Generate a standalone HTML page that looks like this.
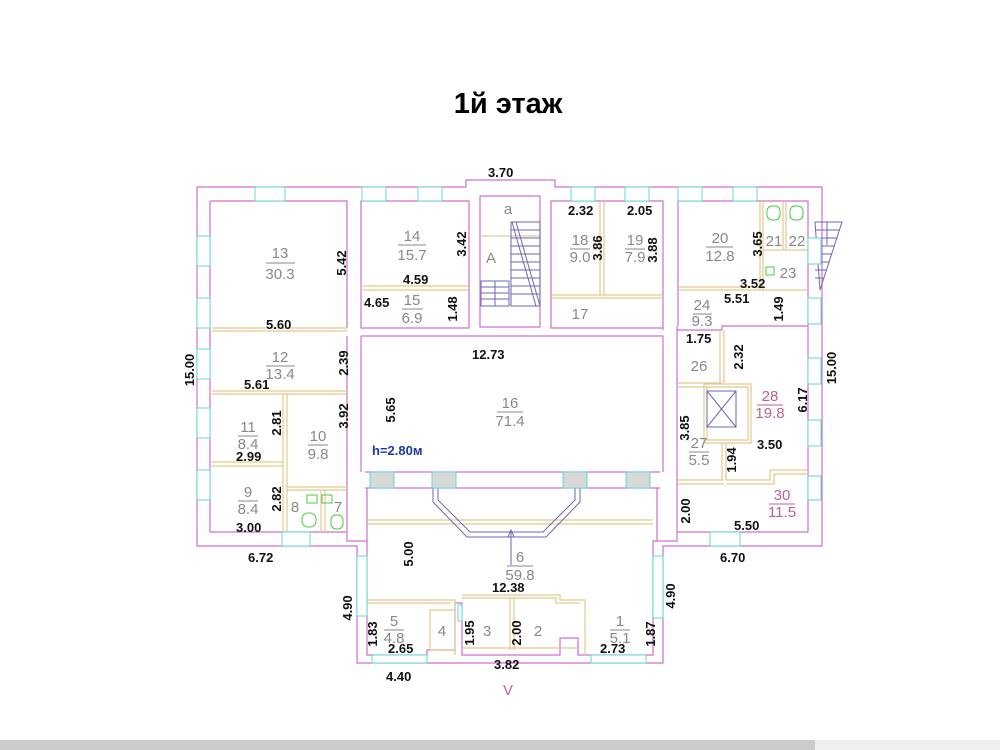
<!DOCTYPE html>
<html><head><meta charset="utf-8"><style>
html,body{margin:0;padding:0;background:#fff;width:1000px;height:750px;overflow:hidden}
svg{display:block}
.w{fill:none;stroke:#cf6fcf;stroke-width:1.2}
.t{fill:none;stroke:#e2c98e;stroke-width:1.2}
.win{fill:#fff;stroke:#5fd9d9;stroke-width:1}
.d{font-family:"Liberation Sans",sans-serif;font-weight:bold;font-size:13px;fill:#111}
.r{font-family:"Liberation Sans",sans-serif;font-size:15px;fill:#888;text-anchor:middle}
.s{fill:none;stroke:#6a6ab0;stroke-width:1}
</style></head><body>
<svg width="1000" height="750" viewBox="0 0 1000 750">
<text x="508" y="113" text-anchor="middle" font-family="Liberation Sans,sans-serif" font-weight="bold" font-size="29" fill="#000">1й этаж</text>
<path class="w" d="M197,187 H466 V180 H555 V187 H822 V546 H663 V663 H357 V546 H197 Z"/>
<path class="w" d="M210,201 H347 V328 M210,201 V532 H347 V541 H367 V655 H427 V650 H455 V603 H462 V655 H560 V638 H578 V655 H653 V541 H677 V532 H808 V201 H678 V326"/>
<path class="w" d="M361,201 H469 V328 H361 Z M480,196 H540 V327 H480 Z M551,201 H663 V328 H551 Z M361,336 H663 V472 M361,336 V472 M367,488 V541 M657,488 V541 M347,336 V532 M663,201 V330"/>
<path class="w" d="M365,472 H660 M365,488 H660 M677,330 H722 V326 H808 M677,326 V532"/>
<path class="t" d="M212,328 H347 M212,331 H347 M361,286 H469 M361,290 H469 M481,236 H540 M551,295 H663 M551,298 H663 M600,201 V295 M604,201 V295 M678,287 H760 M678,290 H808 M760,201 V290 M763,201 V290 M763,250 H808 M783,201 V250 M786,201 V250 M212,391 H347 M212,394 H347 M283,394 V532 M287,394 V532 M212,462 H283 M212,466 H283 M287,487 H347 M287,490 H347 M321,490 V532 M325,490 V532"/>
<path class="t" d="M720,330 V383 M724,330 V383 M678,383 H722 M678,387 H722 M707,387 H748 V440 H707 Z M704,384 H751 V443 H704 Z M722,443 V480 M726,443 V480 M678,480 H724 M678,484 H724 M726,480 H770 V470 H808 M726,484 H774 V474 H808"/>
<path class="t" d="M367,520 H653 M367,524 H653 M367,600 H455 V655 M367,603 H450 M462,595 H560 V600 H585 V655 M462,598 H556 V603 H580 M510,598 V650 M514,598 V650 M513,648 H580 M462,648 H560 M430,610 H455 V650 H430 Z"/>
<g class="s"><rect x="481" y="281" width="28" height="25"/><path d="M481,287H509M481,293H509M481,299H509M495,281V306"/>
<rect x="511" y="222" width="29" height="84"/><path d="M511,230H540M511,238H540M511,246H540M511,254H540M511,262H540M511,270H540M511,278H540M511,286H540M511,294H540M516,222L540,306M512,222L536,306"/>
<path d="M815,222 H842 L820,290 Z M815,230H839 M815,238H837 M815,246H834 M815,254H832 M815,262H829 M815,270H827 M815,278H824 M827,222V245"/>
<rect x="707" y="391" width="29" height="36" fill="#fff"/><path d="M707,391L736,427M736,391L707,427"/>
<path d="M433,488 V502 L467,537 H546 L580,502 V488 M438,488 V500 L470,532 H543 L575,500 V488"/>
<path d="M511,565 V530 M508,537 L511,530 L514,537"/></g>
<g class="win">
<rect x="255" y="187" width="30" height="14"/><rect x="362" y="187" width="24" height="14"/><rect x="418" y="187" width="24" height="14"/><rect x="571" y="187" width="24" height="14"/><rect x="625" y="187" width="24" height="14"/><rect x="678" y="187" width="24" height="14"/><rect x="733" y="187" width="24" height="14"/>
<rect x="197" y="236" width="13" height="30"/><rect x="197" y="298" width="13" height="30"/><rect x="197" y="349" width="13" height="30"/><rect x="197" y="408" width="13" height="30"/><rect x="197" y="470" width="13" height="30"/>
<rect x="808" y="238" width="13" height="26"/><rect x="808" y="298" width="13" height="26"/><rect x="808" y="358" width="13" height="26"/><rect x="808" y="420" width="13" height="26"/><rect x="808" y="476" width="13" height="24"/>
<rect x="282" y="532" width="28" height="14"/><rect x="710" y="532" width="30" height="14"/>
<rect x="357" y="556" width="10" height="60"/><rect x="653" y="556" width="10" height="62"/>
<rect x="372" y="655" width="55" height="8"/><rect x="591" y="655" width="55" height="8"/>
<rect x="458" y="605" width="4" height="16"/>
</g>
<g fill="#d8d8d8" stroke="#5fd9d9"><rect x="370" y="472" width="24" height="16"/><rect x="432" y="472" width="24" height="16"/><rect x="563" y="472" width="24" height="16"/><rect x="626" y="472" width="24" height="16"/></g>
<g fill="none" stroke="#4c4" stroke-width="1"><rect x="307" y="495" width="10" height="8"/><rect x="322" y="495" width="10" height="8"/><rect x="302" y="513" width="14" height="14" rx="6"/><rect x="331" y="515" width="12" height="14" rx="5"/><rect x="767" y="206" width="13" height="14" rx="5"/><rect x="790" y="206" width="13" height="14" rx="5"/><rect x="766" y="267" width="8" height="8"/></g>
<g class="r">
<text x="280" y="258">13</text><text x="280" y="279">30.3</text><path d="M266,263H295" stroke="#888"/>
<text x="412" y="241">14</text><text x="412" y="260">15.7</text><path d="M398,245H426" stroke="#888"/>
<text x="412" y="305">15</text><text x="412" y="323">6.9</text><path d="M402,309H423" stroke="#888"/>
<text x="580" y="245">18</text><text x="580" y="262">9.0</text><path d="M570,249H590" stroke="#888"/>
<text x="635" y="245">19</text><text x="635" y="262">7.9</text><path d="M625,249H645" stroke="#888"/>
<text x="720" y="243">20</text><text x="720" y="261">12.8</text><path d="M706,247H733" stroke="#888"/>
<text x="774" y="246">21</text><text x="797" y="246">22</text><text x="788" y="278">23</text>
<text x="702" y="310">24</text><text x="702" y="326">9.3</text><path d="M693,314H712" stroke="#888"/>
<text x="580" y="319">17</text><text x="491" y="263">A</text><text x="508" y="214">a</text>
<text x="280" y="362">12</text><text x="280" y="379">13.4</text><path d="M266,366H295" stroke="#888"/>
<text x="510" y="408">16</text><text x="510" y="426">71.4</text><path d="M497,412H523" stroke="#888"/>
<text x="248" y="432">11</text><text x="248" y="449">8.4</text><path d="M238,436H258" stroke="#888"/>
<text x="318" y="441">10</text><text x="318" y="459">9.8</text><path d="M308,445H328" stroke="#888"/>
<text x="248" y="497">9</text><text x="248" y="514">8.4</text><path d="M238,501H258" stroke="#888"/>
<text x="295" y="512">8</text><text x="338" y="512">7</text>
<text x="699" y="371">26</text>
<text x="699" y="448">27</text><text x="699" y="465">5.5</text><path d="M689,452H709" stroke="#888"/>
<text x="520" y="562">6</text><text x="520" y="580">59.8</text><path d="M507,566H533" stroke="#888"/>
<text x="394" y="626">5</text><text x="394" y="643">4.8</text><path d="M384,630H404" stroke="#888"/>
<text x="442" y="636">4</text><text x="487" y="636">3</text><text x="538" y="636">2</text>
<text x="620" y="626">1</text><text x="620" y="643">5.1</text><path d="M610,630H630" stroke="#888"/>
</g>
<g class="r" style="fill:#c06090"><text x="770" y="401">28</text><text x="770" y="418">19.8</text><text x="782" y="500">30</text><text x="782" y="517">11.5</text></g>
<path d="M757,405H783 M769,504H795" stroke="#c06090"/>
<text x="508" y="695" class="r" style="fill:#c060a0">V</text>
<text x="372" y="455" font-family="Liberation Sans,sans-serif" font-weight="bold" font-size="13" fill="#1a3aa0">h=2.80м</text>
<g class="d">
<text x="488" y="177">3.70</text><text x="568" y="215">2.32</text><text x="627" y="215">2.05</text>
<text x="403" y="284">4.59</text><text x="364" y="307">4.65</text><text x="266" y="329">5.60</text>
<text x="740" y="288">3.52</text><text x="724" y="303">5.51</text><text x="686" y="343">1.75</text>
<text x="472" y="359">12.73</text><text x="244" y="389">5.61</text><text x="236" y="461">2.99</text><text x="236" y="532">3.00</text>
<text x="757" y="449">3.50</text><text x="734" y="530">5.50</text><text x="248" y="562">6.72</text><text x="720" y="562">6.70</text>
<text x="492" y="592">12.38</text><text x="388" y="653">2.65</text><text x="600" y="653">2.73</text><text x="494" y="669">3.82</text><text x="386" y="681">4.40</text>
</g>
<g class="d">
<text transform="translate(346,263) rotate(-90)" text-anchor="middle">5.42</text>
<text transform="translate(466,244) rotate(-90)" text-anchor="middle">3.42</text>
<text transform="translate(457,309) rotate(-90)" text-anchor="middle">1.48</text>
<text transform="translate(602,248) rotate(-90)" text-anchor="middle">3.86</text>
<text transform="translate(657,250) rotate(-90)" text-anchor="middle">3.88</text>
<text transform="translate(762,244) rotate(-90)" text-anchor="middle">3.65</text>
<text transform="translate(783,309) rotate(-90)" text-anchor="middle">1.49</text>
<text transform="translate(743,357) rotate(-90)" text-anchor="middle">2.32</text>
<text transform="translate(807,400) rotate(-90)" text-anchor="middle">6.17</text>
<text transform="translate(836,368) rotate(-90)" text-anchor="middle">15.00</text>
<text transform="translate(194,370) rotate(-90)" text-anchor="middle">15.00</text>
<text transform="translate(348,363) rotate(-90)" text-anchor="middle">2.39</text>
<text transform="translate(281,423) rotate(-90)" text-anchor="middle">2.81</text>
<text transform="translate(348,416) rotate(-90)" text-anchor="middle">3.92</text>
<text transform="translate(395,410) rotate(-90)" text-anchor="middle">5.65</text>
<text transform="translate(281,499) rotate(-90)" text-anchor="middle">2.82</text>
<text transform="translate(413,554) rotate(-90)" text-anchor="middle">5.00</text>
<text transform="translate(689,428) rotate(-90)" text-anchor="middle">3.85</text>
<text transform="translate(736,460) rotate(-90)" text-anchor="middle">1.94</text>
<text transform="translate(690,511) rotate(-90)" text-anchor="middle">2.00</text>
<text transform="translate(352,608) rotate(-90)" text-anchor="middle">4.90</text>
<text transform="translate(675,596) rotate(-90)" text-anchor="middle">4.90</text>
<text transform="translate(377,634) rotate(-90)" text-anchor="middle">1.83</text>
<text transform="translate(474,633) rotate(-90)" text-anchor="middle">1.95</text>
<text transform="translate(521,633) rotate(-90)" text-anchor="middle">2.00</text>
<text transform="translate(655,634) rotate(-90)" text-anchor="middle">1.87</text>
</g>
<rect x="0" y="740" width="815" height="10" fill="#cbcbcb"/>
<rect x="815" y="740" width="185" height="10" fill="#efefef"/>
</svg>
</body></html>
